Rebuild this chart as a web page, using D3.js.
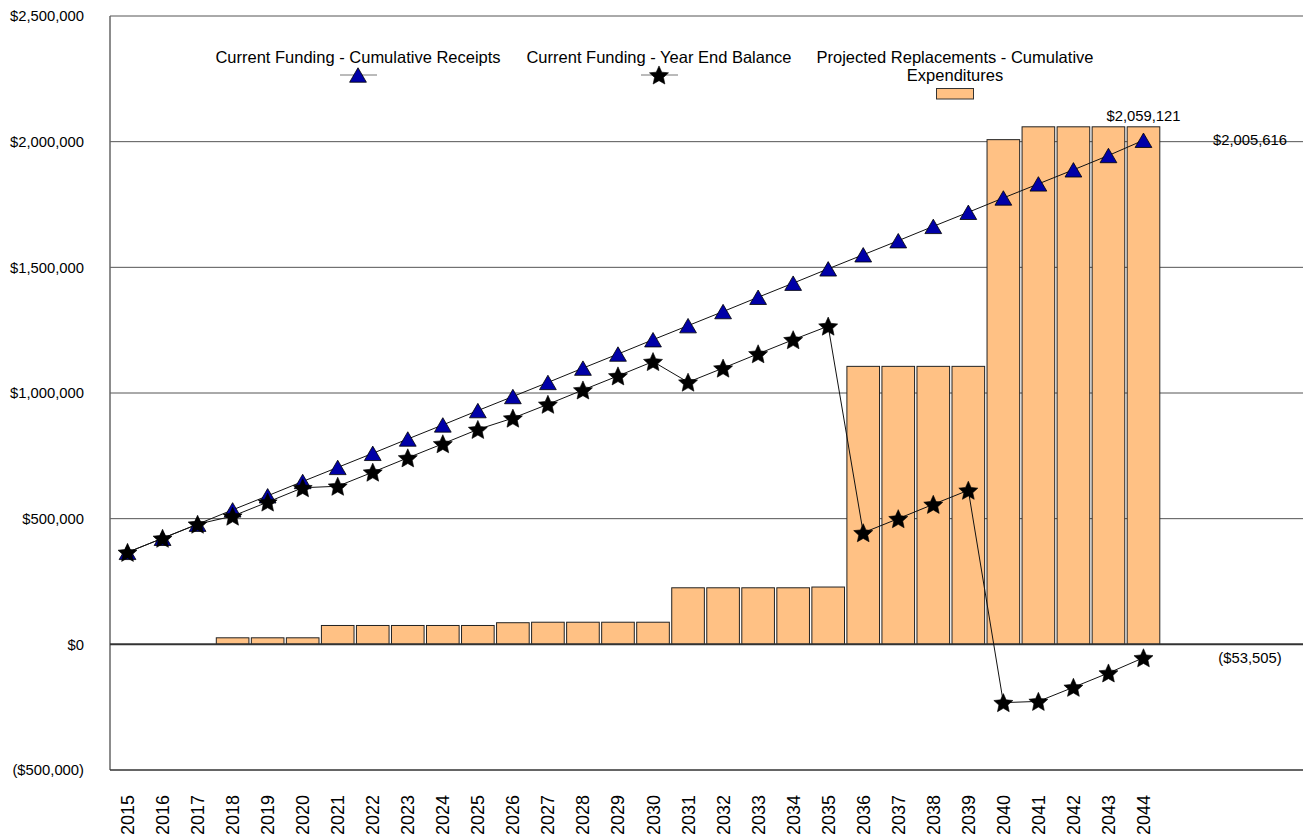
<!DOCTYPE html>
<html>
<head>
<meta charset="utf-8">
<script src="https://cdn.jsdelivr.net/npm/d3@7"></script>
<style>
  html, body { margin: 0; padding: 0; background: #fff; }
  svg { display: block; font-family: "Liberation Sans", Arial, sans-serif; }
</style>
</head>
<body>
<svg id="chart" width="1303" height="839"></svg>
<script>
// Reserve study funding plan, 2015-2044
const years = d3.range(2015, 2045).map(String);

// Projected Replacements - Cumulative Expenditures
const expenditures = [
  0, 0, 0, 26000, 26000, 26000, 75000, 75000, 75000, 75000,
  75000, 86000, 88000, 88000, 88000, 88000, 225000, 225000, 225000, 225000,
  228000, 1106000, 1106000, 1106000, 1106000, 2008000, 2059121, 2059121, 2059121, 2059121
];

// Current Funding - Cumulative Receipts
const receipts = [
  366000, 422000, 478000, 535000, 591000, 648000, 704000, 760000, 817000, 873000,
  930000, 986000, 1042000, 1099000, 1155000, 1212000, 1268000, 1324000, 1381000, 1437000,
  1494000, 1550000, 1606000, 1663000, 1719000, 1776000, 1832000, 1888000, 1945000, 2005616
];

// Current Funding - Year End Balance
const balances = [
  366000, 422000, 478000, 510000, 566000, 623000, 629000, 685000, 742000, 798000,
  855000, 900000, 955000, 1012000, 1068000, 1125000, 1043000, 1099000, 1156000, 1212000,
  1266000, 444000, 500000, 557000, 613000, -232000, -227000, -171000, -114000, -53505
];

const yTicks = [-500000, 0, 500000, 1000000, 1500000, 2000000, 2500000];

const legendLabels = [
  ["Current Funding - Cumulative Receipts"],
  ["Current Funding - Year End Balance"],
  ["Projected Replacements - Cumulative", "Expenditures"]
];

const barFill = "#FFC184";
const triFill = "#0000A8";

const svg = d3.select("#chart");
const plot = { left: 110, right: 1303, top: 16, bottom: 770 };

const x = d3.scaleBand().domain(years).range([110, 1161]).padding(0);
const y = d3.scaleLinear().domain([-500000, 2500000]).range([plot.bottom, plot.top]);
const cx = d => x(d) + x.bandwidth() / 2;

const money = v => v < 0 ? "($" + d3.format(",")(-v) + ")" : "$" + d3.format(",")(v);

// Symbol shapes centred on their bounding box
const triangleSym = {
  draw(ctx, size) {
    const w = Math.sqrt(size) * 1.52, h = w * 0.86;
    ctx.moveTo(0, -h / 2);
    ctx.lineTo(w / 2, h / 2);
    ctx.lineTo(-w / 2, h / 2);
    ctx.closePath();
  }
};
const starSym = {
  draw(ctx, size) {
    const R = Math.sqrt(size) * 0.92, r = R * 0.47;
    const dy = (R - R * Math.cos(Math.PI / 5)) / 2;
    for (let i = 0; i < 10; i++) {
      const a = -Math.PI / 2 + i * Math.PI / 5;
      const rad = i % 2 === 0 ? R : r;
      const px = rad * Math.cos(a), py = rad * Math.sin(a) + dy;
      if (i === 0) ctx.moveTo(px, py); else ctx.lineTo(px, py);
    }
    ctx.closePath();
  }
};
const tri = d3.symbol().type(triangleSym).size(122);
const star = d3.symbol().type(starSym).size(118);

// Horizontal grid lines
svg.append("g").selectAll("line").data(yTicks.filter(t => t !== 0)).join("line")
  .attr("x1", plot.left).attr("x2", plot.right)
  .attr("y1", d => y(d)).attr("y2", d => y(d))
  .attr("stroke", "#555").attr("stroke-width", 1);

// Y axis labels
svg.append("g").selectAll("text").data(yTicks).join("text")
  .attr("x", 84).attr("y", d => y(d)).attr("dy", "0.35em")
  .attr("text-anchor", "end").attr("font-size", "14.8px").attr("fill", "#000")
  .text(money);

// Y axis line
svg.append("line").attr("x1", plot.left).attr("x2", plot.left)
  .attr("y1", plot.top).attr("y2", plot.bottom)
  .attr("stroke", "#666").attr("stroke-width", 1.5);

// Cumulative expenditure bars
const barData = years.map((yr, i) => ({ yr, v: expenditures[i] })).filter(d => d.v > 0);
svg.append("g").selectAll("rect").data(barData).join("rect")
  .attr("x", d => x(d.yr) + 1.2)
  .attr("width", x.bandwidth() - 2.4)
  .attr("y", d => y(d.v))
  .attr("height", d => y(0) - y(d.v))
  .attr("fill", barFill).attr("stroke", "#222").attr("stroke-width", 1);

// Zero line
svg.append("line").attr("x1", plot.left).attr("x2", plot.right)
  .attr("y1", y(0)).attr("y2", y(0))
  .attr("stroke", "#333").attr("stroke-width", 2);

// Cumulative receipts and year-end balance lines + markers
const line = d3.line().x(d => cx(d.yr)).y(d => y(d.v));
const recData = years.map((yr, i) => ({ yr, v: receipts[i] }));
const balData = years.map((yr, i) => ({ yr, v: balances[i] }));

svg.append("path").datum(recData).attr("d", line)
  .attr("fill", "none").attr("stroke", "#111").attr("stroke-width", 1);
svg.append("path").datum(balData).attr("d", line)
  .attr("fill", "none").attr("stroke", "#111").attr("stroke-width", 1);

svg.append("g").selectAll("path").data(recData).join("path")
  .attr("transform", d => `translate(${cx(d.yr)},${y(d.v)})`)
  .attr("d", tri).attr("fill", triFill).attr("stroke", "#000").attr("stroke-width", 0.8);

svg.append("g").selectAll("path").data(balData).join("path")
  .attr("transform", d => `translate(${cx(d.yr)},${y(d.v)})`)
  .attr("d", star).attr("fill", "#000").attr("stroke", "#000").attr("stroke-width", 0.6);

// Bottom axis line
svg.append("line").attr("x1", plot.left).attr("x2", plot.right)
  .attr("y1", plot.bottom).attr("y2", plot.bottom)
  .attr("stroke", "#222").attr("stroke-width", 1.2);

// Year labels (rotated)
svg.append("g").selectAll("text").data(years).join("text")
  .attr("transform", d => `translate(${cx(d)},795) rotate(-90)`)
  .attr("dy", "0.36em").attr("text-anchor", "end")
  .attr("font-size", "18px").attr("fill", "#000")
  .text(d => d);

// Value call-outs
const last = years.length - 1;
svg.append("text").attr("x", cx(years[last])).attr("y", y(expenditures[last]) - 11)
  .attr("dy", "0.35em").attr("text-anchor", "middle").attr("font-size", "14.8px")
  .text(money(expenditures[last]));
svg.append("text").attr("x", 1250).attr("y", y(receipts[last]))
  .attr("dy", "0.35em").attr("text-anchor", "middle").attr("font-size", "14.8px")
  .text(money(receipts[last]));
svg.append("text").attr("x", 1250).attr("y", y(balances[last]))
  .attr("dy", "0.35em").attr("text-anchor", "middle").attr("font-size", "14.8px")
  .text(money(balances[last]));

// Legend
const legend = svg.append("g").attr("font-size", "16.5px");
const legendX = [358, 659, 955];
legendLabels.forEach((lines, i) => {
  lines.forEach((t, j) => {
    legend.append("text").attr("x", legendX[i]).attr("y", 57 + j * 18)
      .attr("dy", "0.35em").attr("text-anchor", "middle").text(t);
  });
});
// receipts key
legend.append("line").attr("x1", legendX[0] - 18).attr("x2", legendX[0] + 19)
  .attr("y1", 75).attr("y2", 75).attr("stroke", "#777").attr("stroke-width", 1);
legend.append("path").attr("transform", `translate(${legendX[0]},75)`)
  .attr("d", tri).attr("fill", triFill).attr("stroke", "#000").attr("stroke-width", 0.8);
// balance key
legend.append("line").attr("x1", legendX[1] - 18).attr("x2", legendX[1] + 19)
  .attr("y1", 75).attr("y2", 75).attr("stroke", "#777").attr("stroke-width", 1);
legend.append("path").attr("transform", `translate(${legendX[1]},75)`)
  .attr("d", star).attr("fill", "#000").attr("stroke", "#000").attr("stroke-width", 0.6);
// expenditures key
legend.append("rect").attr("x", legendX[2] - 18.5).attr("y", 88.5)
  .attr("width", 37).attr("height", 10.5)
  .attr("fill", barFill).attr("stroke", "#333").attr("stroke-width", 1);
</script>
</body>
</html>
